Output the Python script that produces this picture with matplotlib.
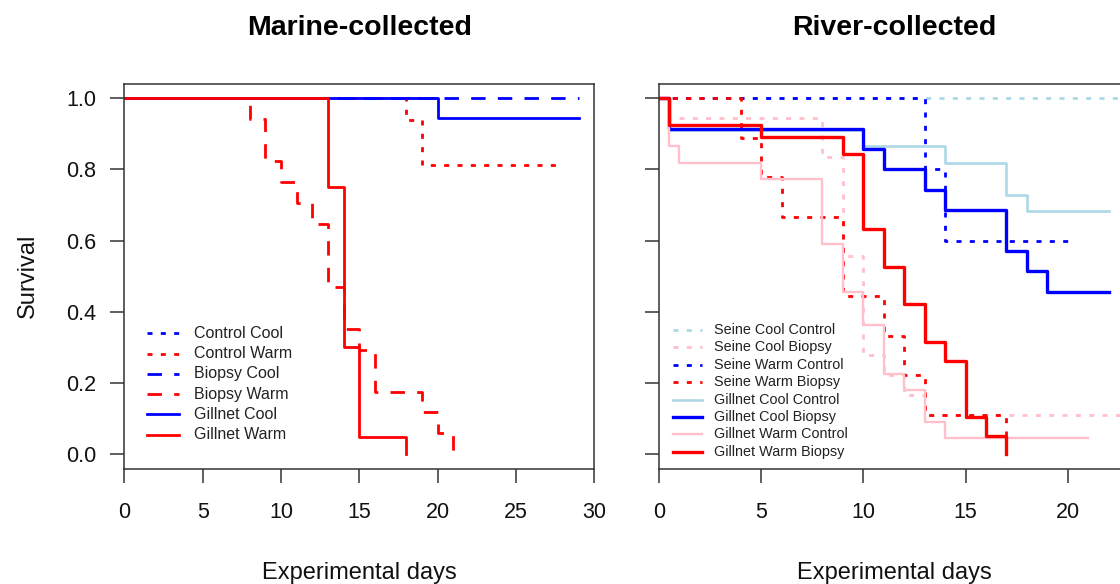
import matplotlib
matplotlib.use("Agg")
import matplotlib.pyplot as plt

plt.rcParams["font.family"] = ["Liberation Sans", "DejaVu Sans"]

# Marine-collected fish: Kaplan-Meier steps (day, survival)
marine_labels = ["Control Cool", "Control Warm", "Biopsy Cool",
                 "Biopsy Warm", "Gillnet Cool", "Gillnet Warm"]
control_cool_t = [0, 20]
control_cool_s = [1.0, 1.0]
control_warm_t = [0, 18, 19, 28]
control_warm_s = [1.0, 0.938, 0.813, 0.813]
biopsy_cool_t = [0, 29]
biopsy_cool_s = [1.0, 1.0]
biopsy_warm_t = [0, 8, 9, 10, 11, 12, 13, 14, 15, 16, 19, 20, 21]
biopsy_warm_s = [1.0, 0.941, 0.824, 0.765, 0.706, 0.647, 0.471, 0.353,
                 0.294, 0.176, 0.118, 0.059, 0.0]
gillnet_cool_t = [0, 20, 29]
gillnet_cool_s = [1.0, 0.944, 0.944]
gillnet_warm_t = [0, 13, 14, 15, 18]
gillnet_warm_s = [1.0, 0.75, 0.30, 0.05, 0.0]

# River-collected fish
river_labels = ["Seine Cool Control", "Seine Cool Biopsy", "Seine Warm Control",
                "Seine Warm Biopsy", "Gillnet Cool Control", "Gillnet Cool Biopsy",
                "Gillnet Warm Control", "Gillnet Warm Biopsy"]
s_cool_ctl_t = [0, 23]
s_cool_ctl_s = [1.0, 1.0]
s_cool_bio_t = [0, 0.5, 8, 9, 10, 11, 12, 13, 23]
s_cool_bio_s = [1.0, 0.944, 0.833, 0.556, 0.278, 0.222, 0.167, 0.111, 0.111]
s_warm_ctl_t = [0, 13, 14, 20]
s_warm_ctl_s = [1.0, 0.8, 0.6, 0.6]
s_warm_bio_t = [0, 4, 5, 6, 9, 11, 12, 13, 17]
s_warm_bio_s = [1.0, 0.889, 0.778, 0.667, 0.444, 0.333, 0.222, 0.111, 0.0]
g_cool_ctl_t = [0, 0.5, 10, 14, 17, 18, 22]
g_cool_ctl_s = [1.0, 0.909, 0.864, 0.818, 0.727, 0.682, 0.682]
g_cool_bio_t = [0, 0.5, 10, 11, 13, 14, 17, 18, 19, 22]
g_cool_bio_s = [1.0, 0.914, 0.857, 0.8, 0.743, 0.686, 0.571, 0.514, 0.457, 0.457]
g_warm_ctl_t = [0, 0.5, 1, 5, 8, 9, 10, 11, 12, 13, 14, 21]
g_warm_ctl_s = [1.0, 0.864, 0.818, 0.773, 0.591, 0.455, 0.364, 0.227, 0.182,
                0.091, 0.045, 0.045]
g_warm_bio_t = [0, 0.5, 5, 9, 10, 11, 12, 13, 14, 15, 16, 17]
g_warm_bio_s = [1.0, 0.925, 0.89, 0.842, 0.632, 0.526, 0.421, 0.316, 0.263,
                0.105, 0.053, 0.0]

RED, BLUE = "#FF0000", "#0000FF"
LBLUE, PINK = "#ADD8E6", "#FFC0CB"
DOT = (0, (1.8, 3.0))
DASH = (0, (5.2, 4.4))
AXC = "#333333"

W, H = 1120, 584
fig = plt.figure(figsize=(W / 100, H / 100), dpi=100)


def px_axes(left, top, width, height):
    return fig.add_axes([left / W, 1 - (top + height) / H, width / W, height / H])


def style(ax, xmax, xticks, show_y):
    ax.set_xlim(0, xmax)
    ax.set_ylim(-0.04, 1.04)
    ax.set_xticks(xticks)
    yt = [0.0, 0.2, 0.4, 0.6, 0.8, 1.0]
    ax.set_yticks(yt)
    ax.set_yticklabels([f"{v:.1f}" for v in yt] if show_y else [])
    ax.tick_params(direction="out", length=10, width=1.1, color=AXC,
                   labelsize=15.5, labelcolor="#111111")
    ax.tick_params(axis="x", pad=14)
    ax.tick_params(axis="y", pad=10)
    for sp in ax.spines.values():
        sp.set_color(AXC)
        sp.set_linewidth(1.1)
    ax.set_xlabel("Experimental days", fontsize=17, color="#111111")
    ax.xaxis.set_label_coords(0.5, -0.27)
    ax.xaxis.label.set_va("center")


def key(ax, entries, x0, x1, xt, y0, dy, size):
    for i, (label, color, ls, lw) in enumerate(entries):
        y = y0 - i * dy
        ax.plot([x0, x1], [y, y], transform=ax.transAxes, color=color,
                linestyle=ls, lw=lw, clip_on=False)
        ax.text(xt, y, label, transform=ax.transAxes, ha="left", va="center",
                fontsize=size, color="#222222")


# left panel
ax1 = px_axes(124.3, 83.7, 470, 385)
marine = [
    (control_cool_t, control_cool_s, BLUE, DOT, 2.0),
    (control_warm_t, control_warm_s, RED, DOT, 2.0),
    (biopsy_cool_t, biopsy_cool_s, BLUE, DASH, 2.0),
    (biopsy_warm_t, biopsy_warm_s, RED, DASH, 2.0),
    (gillnet_cool_t, gillnet_cool_s, BLUE, "-", 2.0),
    (gillnet_warm_t, gillnet_warm_s, RED, "-", 2.0),
]
for t, s, c, ls, lw in marine:
    ax1.step(t, s, where="post", color=c, linestyle=ls, lw=lw)
style(ax1, 30, [0, 5, 10, 15, 20, 25, 30], True)
ax1.set_ylabel("Survival", fontsize=17, color="#111111")
ax1.yaxis.set_label_coords(-0.205, 0.5)
ax1.yaxis.label.set_va("center")
ax1.text(0.5, 1.145, "Marine-collected", transform=ax1.transAxes,
         ha="center", va="center", fontsize=20.5, fontweight="bold")
key(ax1, [(lab, c, ls, lw) for lab, (_, _, c, ls, lw) in zip(marine_labels, marine)],
    0.0477, 0.1164, 0.1483, 0.3517, 0.0527, 11.5)

# right panel (runs off the right edge of the canvas)
ax2 = px_axes(659, 83.7, 470, 385)
river = [
    (s_cool_ctl_t, s_cool_ctl_s, LBLUE, DOT, 2.0),
    (s_cool_bio_t, s_cool_bio_s, PINK, DOT, 2.0),
    (s_warm_ctl_t, s_warm_ctl_s, BLUE, DOT, 2.0),
    (s_warm_bio_t, s_warm_bio_s, RED, DOT, 2.0),
    (g_cool_ctl_t, g_cool_ctl_s, LBLUE, "-", 1.9),
    (g_cool_bio_t, g_cool_bio_s, BLUE, "-", 2.4),
    (g_warm_ctl_t, g_warm_ctl_s, PINK, "-", 1.7),
    (g_warm_bio_t, g_warm_bio_s, RED, "-", 2.4),
]
for t, s, c, ls, lw in river:
    ax2.step(t, s, where="post", color=c, linestyle=ls, lw=lw)
style(ax2, 23, [0, 5, 10, 15, 20], False)
ax2.text(0.5, 1.145, "River-collected", transform=ax2.transAxes,
         ha="center", va="center", fontsize=20.5, fontweight="bold")
key(ax2, [(lab, c, ls, lw) for lab, (_, _, c, ls, lw) in zip(river_labels, river)],
    0.0298, 0.0915, 0.1164, 0.3603, 0.0452, 10.4)

fig.savefig("out.png", dpi=100)
